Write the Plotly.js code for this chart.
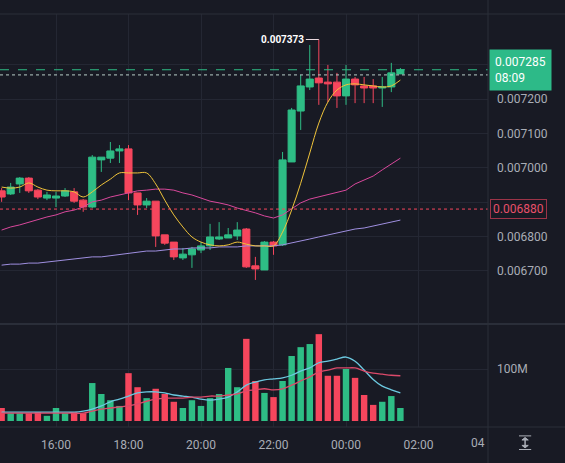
<!DOCTYPE html>
<html><head><meta charset="utf-8">
<script src="https://cdn.plot.ly/plotly-3.0.1.min.js"></script>
<style>html,body{margin:0;padding:0;background:#181a24;}#chart{width:565px;height:463px;}</style>
</head><body><div id="chart"></div>
<script>
const times = ['2024-01-01 14:30','2024-01-01 14:45','2024-01-01 15:00','2024-01-01 15:15','2024-01-01 15:30','2024-01-01 15:45',
'2024-01-01 16:00','2024-01-01 16:15','2024-01-01 16:30','2024-01-01 16:45','2024-01-01 17:00','2024-01-01 17:15',
'2024-01-01 17:30','2024-01-01 17:45','2024-01-01 18:00','2024-01-01 18:15','2024-01-01 18:30','2024-01-01 18:45',
'2024-01-01 19:00','2024-01-01 19:15','2024-01-01 19:30','2024-01-01 19:45','2024-01-01 20:00','2024-01-01 20:15',
'2024-01-01 20:30','2024-01-01 20:45','2024-01-01 21:00','2024-01-01 21:15','2024-01-01 21:30','2024-01-01 21:45',
'2024-01-01 22:00','2024-01-01 22:15','2024-01-01 22:30','2024-01-01 22:45','2024-01-01 23:00','2024-01-01 23:15',
'2024-01-01 23:30','2024-01-01 23:45','2024-01-02 00:00','2024-01-02 00:15','2024-01-02 00:30','2024-01-02 00:45',
'2024-01-02 01:00','2024-01-02 01:15','2024-01-02 01:30'];

const openP  = [0.006933,0.006924,0.006953,0.006970,0.006935,0.006912,0.006912,0.006918,0.006930,0.006906,
0.006886,0.007023,0.007028,0.007049,0.007055,0.006927,0.006892,0.006903,0.006805,0.006784,
0.006738,0.006747,0.006761,0.006773,0.006793,0.006796,0.006802,0.006822,0.006715,0.006703,
0.006784,0.006776,0.007017,0.007165,0.007235,0.007261,0.007249,0.007249,0.007209,0.007258,
0.007238,0.007238,0.007232,0.007235,0.007273];
const highP  = [0.006941,0.006956,0.006973,0.006973,0.006938,0.006930,0.006930,0.006941,0.006941,0.006909,
0.007037,0.007031,0.007075,0.007066,0.007066,0.006927,0.006912,0.006903,0.006805,0.006784,
0.006767,0.006770,0.006784,0.006837,0.006842,0.006825,0.006842,0.006825,0.006741,0.006787,
0.006787,0.007046,0.007174,0.007270,0.007357,0.007373,0.007299,0.007276,0.007299,0.007264,
0.007264,0.007258,0.007264,0.007305,0.007290];
const lowP   = [0.006901,0.006921,0.006927,0.006927,0.006909,0.006906,0.006886,0.006915,0.006898,0.006872,
0.006883,0.006988,0.007014,0.007014,0.006906,0.006863,0.006883,0.006770,0.006776,0.006732,
0.006732,0.006709,0.006752,0.006761,0.006790,0.006796,0.006790,0.006709,0.006674,0.006703,
0.006747,0.006773,0.007023,0.007110,0.007226,0.007183,0.007191,0.007174,0.007183,0.007188,
0.007188,0.007188,0.007177,0.007220,0.007273];
const closeP = [0.006915,0.006944,0.006970,0.006933,0.006915,0.006921,0.006918,0.006933,0.006903,0.006886,
0.007031,0.007031,0.007049,0.007055,0.006927,0.006892,0.006903,0.006802,0.006781,0.006741,
0.006749,0.006764,0.006773,0.006799,0.006799,0.006805,0.006819,0.006712,0.006706,0.006784,
0.006773,0.007023,0.007168,0.007238,0.007258,0.007247,0.007244,0.007209,0.007258,0.007241,
0.007232,0.007232,0.007235,0.007276,0.007285];

const maFast = [0.006944,0.006941,0.006944,0.006956,0.006944,0.006935,0.006933,0.006933,0.006930,0.006915,
0.006930,0.006950,0.006967,0.006985,0.006985,0.006985,0.006985,0.006953,0.006906,0.006863,
0.006828,0.006799,0.006784,0.006776,0.006773,0.006776,0.006784,0.006778,0.006773,0.006773,
0.006773,0.006813,0.006877,0.006955,0.007043,0.007130,0.007191,0.007226,0.007241,0.007244,
0.007241,0.007238,0.007235,0.007238,0.007255];
const maMid = [0.006819,0.006828,0.006834,0.006842,0.006848,0.006857,0.006863,0.006872,0.006877,0.006886,
0.006901,0.006906,0.006915,0.006921,0.006927,0.006933,0.006935,0.006938,0.006938,0.006935,
0.006927,0.006921,0.006912,0.006903,0.006898,0.006892,0.006883,0.006877,0.006869,0.006860,
0.006854,0.006863,0.006880,0.006898,0.006909,0.006915,0.006921,0.006927,0.006935,0.006953,
0.006965,0.006976,0.006994,0.007011,0.007028];
const maSlow = [0.006717,0.006720,0.006720,0.006723,0.006723,0.006726,0.006729,0.006732,0.006735,0.006738,
0.006741,0.006741,0.006744,0.006749,0.006752,0.006755,0.006758,0.006758,0.006761,0.006764,
0.006764,0.006767,0.006767,0.006767,0.006770,0.006770,0.006770,0.006773,0.006773,0.006773,
0.006773,0.006776,0.006781,0.006787,0.006793,0.006799,0.006805,0.006810,0.006816,0.006822,
0.006825,0.006831,0.006837,0.006842,0.006848];

const volume = [25,15,15,15,17,10,25,15,17,15,73,52,40,29,92,65,44,62,52,37,25,40,29,44,52,102,65,158,77,54,
46,77,125,142,148,167,87,87,100,83,50,31,37,48,25].map(v => v * 1e6);
const volMaFast = [17,17,17,17,17,17,17,17,17,19,23,29,37,42,48,54,56,56,54,50,48,46,42,40,42,46,56,69,75,79,
81,83,88,96,102,112,115,119,123,115,98,80,67,60,54].map(v => v * 1e6);
const volMaSlow = [15,15,15,15,15,15,15,15,15,15,19,23,25,27,29,33,38,42,44,44,44,46,46,48,48,50,52,58,60,62,
60,62,69,77,85,94,98,102,102,102,96,92,90,88,87].map(v => v * 1e6);

const priceTicks = [0.0067,0.0068,0.0069,0.0070,0.0071,0.0072,0.0073];
const priceTickText = ['0.006700','0.006800','','0.007000','0.007100','0.007200',''];
const volTicks = [100e6];
const volTickText = ['100M'];
const timeTicks = ['2024-01-01 16:00','2024-01-01 18:00','2024-01-01 20:00','2024-01-01 22:00','2024-01-02 00:00','2024-01-02 02:00'];
const timeTickText = ['16:00','18:00','20:00','22:00','00:00','02:00'];
const cutTimeLabel = '04';
const lastPriceText = '0.007285';
const countdownText = '08:09';
const markPrice = 0.00727;
const alertPrice = 0.00688;

const GREEN = '#2ebd85', RED = '#f6465d', BG = '#181a24', GRID = '#242733', TXT = '#a9adb6';
const volColors = closeP.map((c, i) => c >= openP[i] ? GREEN : RED);

const lastClose = closeP[closeP.length - 1];
let hiIdx = 0;
highP.forEach((h, i) => { if (h > highP[hiIdx]) hiIdx = i; });

const traces = [
  {type:'candlestick', x:times, open:openP, high:highP, low:lowP, close:closeP, xaxis:'x', yaxis:'y',
   increasing:{line:{color:GREEN,width:1}, fillcolor:GREEN},
   decreasing:{line:{color:RED,width:1}, fillcolor:RED}, whiskerwidth:0, hoverinfo:'skip'},
  {type:'scatter', mode:'lines', x:times, y:maSlow, line:{color:'#9f8fe0',width:1}, yaxis:'y', hoverinfo:'skip'},
  {type:'scatter', mode:'lines', x:times, y:maMid, line:{color:'#d9489c',width:1}, yaxis:'y', hoverinfo:'skip'},
  {type:'scatter', mode:'lines', x:times, y:maFast, line:{color:'#f0c43a',width:1,shape:'spline'}, yaxis:'y', hoverinfo:'skip'},
  {type:'bar', x:times, y:volume, marker:{color:volColors, line:{width:0}}, width:640000, yaxis:'y2', hoverinfo:'skip'},
  {type:'scatter', mode:'lines', x:times, y:volMaFast, line:{color:'#6cc9e0',width:1.3,shape:'spline'}, yaxis:'y2', hoverinfo:'skip'},
  {type:'scatter', mode:'lines', x:times, y:volMaSlow, line:{color:'#dc4a6a',width:1.3,shape:'spline'}, yaxis:'y2', hoverinfo:'skip'}
];

const H = 413; // plot height in px
const layout = {
  width:565, height:463, margin:{l:0,r:77,t:14,b:36},
  paper_bgcolor:BG, plot_bgcolor:BG, showlegend:false, hovermode:false, dragmode:false,
  font:{family:'Roboto, Arial, sans-serif', color:TXT, size:12},
  boxgap:0.22, boxgroupgap:0,
  xaxis:{type:'date', anchor:'y2', range:['2024-01-01 14:27:19','2024-01-02 03:55:01'], rangeslider:{visible:false},
    tickvals:timeTicks, ticktext:timeTickText, showgrid:true, gridcolor:GRID,
    zeroline:false, showline:false, ticks:'', ticklabelstandoff:9, tickfont:{size:12,color:TXT}, fixedrange:true},
  yaxis:{domain:[(427-323)/H,1], range:[0.0065488,0.0074471], side:'right', tickvals:priceTicks, ticktext:priceTickText,
    showgrid:true, gridcolor:GRID, zeroline:false, showline:false, ticks:'', ticklabelstandoff:8,
    tickfont:{size:12,color:TXT}, fixedrange:true},
  yaxis2:{domain:[0,(427-325)/H], range:[-11.5e6,184.6e6], side:'right', tickvals:volTicks, ticktext:volTickText,
    showgrid:true, gridcolor:GRID, zeroline:false, showline:false, ticks:'', ticklabelstandoff:8,
    tickfont:{size:12,color:TXT}, fixedrange:true},
  shapes:[
    {type:'line', xref:'paper', yref:'y', x0:0, x1:1, y0:lastClose, y1:lastClose, line:{color:GREEN,width:1,dash:'dash'}},
    {type:'line', xref:'paper', yref:'y', x0:0, x1:1, y0:markPrice, y1:markPrice, line:{color:'#b8cfc8',width:1,dash:'dot'}},
    {type:'line', xref:'paper', yref:'y', x0:0, x1:1, y0:alertPrice, y1:alertPrice, line:{color:RED,width:1,dash:'dot'}},
    {type:'line', xref:'paper', yref:'paper', x0:0, x1:1.2, y0:1, y1:1, line:{color:'#2a2e39',width:1}},
    {type:'line', xref:'paper', yref:'paper', x0:0, x1:1.2, y0:(427-324)/H, y1:(427-324)/H, line:{color:'#2a2e39',width:2}},
    {type:'line', xref:'paper', yref:'paper', x0:0, x1:1.2, y0:0, y1:0, line:{color:'#2a2e39',width:1}},
    {type:'line', xref:'paper', yref:'paper', x0:1, x1:1, y0:-0.1, y1:1.04, line:{color:'#2a2e39',width:1}, layer:'above'},
    {type:'line', xref:'paper', yref:'paper', x0:1.0635, x1:1.0885, y0:-0.0215, y1:-0.0215, line:{color:TXT,width:1}, layer:'above'},
    {type:'line', xref:'paper', yref:'paper', x0:1.0635, x1:1.0885, y0:-0.0545, y1:-0.0545, line:{color:TXT,width:1}, layer:'above'},
    {type:'line', xref:'paper', yref:'paper', x0:1.076, x1:1.076, y0:-0.026, y1:-0.050, line:{color:TXT,width:1.5}, layer:'above'},
    {type:'path', xref:'paper', yref:'paper', path:'M 1.0695 -0.0315 L 1.076 -0.0255 L 1.0825 -0.0315 Z', fillcolor:TXT, line:{color:TXT,width:1}, layer:'above'},
    {type:'path', xref:'paper', yref:'paper', path:'M 1.0695 -0.0445 L 1.076 -0.0505 L 1.0825 -0.0445 Z', fillcolor:TXT, line:{color:TXT,width:1}, layer:'above'}
  ],
  annotations:[
    {xref:'paper', yref:'y', x:1, y:lastClose, xanchor:'left', xshift:1, yanchor:'middle', showarrow:false,
     text:lastPriceText + '<br>' + countdownText, align:'left', bgcolor:'#2dba88', borderpad:5,
     font:{color:'#ffffff', size:12, family:'Roboto, Arial, sans-serif'}},
    {xref:'paper', yref:'y', x:1, y:alertPrice, xanchor:'left', xshift:2, yanchor:'middle', showarrow:false,
     text:alertPrice.toFixed(6), bgcolor:BG, bordercolor:'#9c3448', borderwidth:1, borderpad:2,
     font:{color:'#e8506a', size:12, family:'Roboto, Arial, sans-serif'}},
    {xref:'x', yref:'y', x:times[hiIdx], y:highP[hiIdx], showarrow:true, arrowhead:0, arrowwidth:1.2,
     arrowcolor:'#e9d9de', ax:-13, ay:0, standoff:0, xanchor:'right', yanchor:'middle',
     text:'<b>' + highP[hiIdx].toFixed(6) + '</b>', font:{color:'#ffffff', size:10, family:'Roboto, Arial, sans-serif'}},
    {xref:'paper', yref:'paper', x:1, y:-16/H, xanchor:'right', xshift:-1, yanchor:'middle', showarrow:false,
     text:cutTimeLabel, font:{color:TXT, size:12, family:'Roboto, Arial, sans-serif'}}
  ]
};

Plotly.newPlot('chart', traces, layout, {displayModeBar:false, staticPlot:true});
</script>
</body></html>
